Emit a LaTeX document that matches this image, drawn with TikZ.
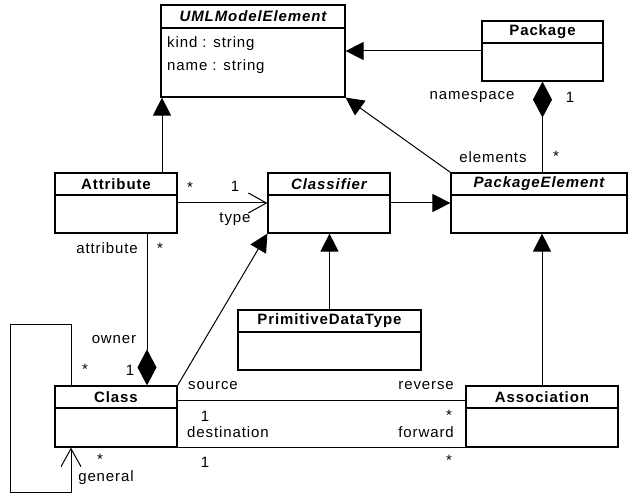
\documentclass[tikz,border=0pt]{standalone}
\usepackage{fontspec}
\setmainfont[LetterSpace=6]{Liberation Sans}
\usetikzlibrary{arrows.meta,fit}
\tikzset{
  box/.style={draw, line width=1.2pt, inner sep=0pt},
  lbl/.style={inner sep=0pt, font=\fontsize{15}{17}\selectfont},
  ttl/.style={inner sep=0pt, font=\fontsize{15}{17}\selectfont\bfseries},
  ttli/.style={inner sep=0pt, font=\fontsize{15}{17}\selectfont\bfseries\itshape},
  conn/.style={line width=1pt},
  gen/.style={conn, -{Triangle[length=18pt,width=18pt]}},
  opn/.style={conn, -{Straight Barb[length=18pt,width=20pt,line width=1pt]}},
  comp/.style={conn, {Diamond[length=36pt,width=19pt]}-},
}
\newcommand\umlcls[8]{%
  \node[box, fit={(#2,#3) (#4,#5)}] (#1) {};
  \draw[line width=1.2pt] (#2,#6) -- (#4,#6);
  \node[#8] at ({(#2+#4)/2},{(#3+#6)/2}) {#7};
}
\begin{document}
\begin{tikzpicture}[x=1pt,y=-1pt]
\useasboundingbox (0,0) rectangle (628,494);
\umlcls{me}{161}{5}{345}{97}{28}{UMLModelElement}{ttli}
\node[lbl, anchor=west] (kind) at (167,44) {kind : string};
\node[lbl, anchor=west] (name) at (167,67) {name : string};
\umlcls{pkg}{482}{21}{603}{81}{43}{Package}{ttl}
\umlcls{attr}{55}{173}{177}{233}{195}{Attribute}{ttl}
\umlcls{cls}{268}{173}{390}{233}{195}{Classifier}{ttli}
\umlcls{pe}{451}{173}{627}{233}{195}{PackageElement}{ttli}
\umlcls{pdt}{238}{310}{421}{370}{332}{PrimitiveDataType}{ttl}
\umlcls{class}{55}{386}{177}{447}{408}{Class}{ttl}
\umlcls{assoc}{466}{386}{618}{447}{408}{Association}{ttl}
% connectors
\draw[gen] (pkg.west) -- (pkg.west -| me.east);
\draw[gen] ([xshift=46pt]attr.north) -- ([xshift=46pt]attr.north |- me.south);
\draw[gen] (pe.north west) -- (me.south east);
\draw[comp] (pkg.south) -- (pkg.south |- pe.north);
\draw[opn] (attr.east) -- (cls.west);
\draw[gen] (cls.east) -- (pe.west);
\draw[gen] (pdt.north) -- (pdt.north |- cls.south);
\draw[gen] (assoc.north) -- (assoc.north |- pe.south);
\draw[gen] (class.north east) -- (cls.south west);
\draw[comp] ([xshift=31pt]class.north) -- ([xshift=31pt]attr.south);
\draw[conn] ([yshift=-15pt]class.north east) -- ([yshift=-15pt]class.north east -| assoc.west);
\draw[conn] (class.south east) -- (assoc.south west);
\draw[opn] ([xshift=-45pt]class.north) -- ++(0,-61) -| (10,492) -| ([xshift=-45pt]class.south);
% labels
\node[lbl] at (472,97) {namespace};
\node[lbl] at (570,97) {1};
\node[lbl] at (493,157) {elements};
\node[lbl] at (556,156) {*};
\node[lbl] at (190,187) {*};
\node[lbl] at (235,186) {1};
\node[lbl] at (235,219) {type};
\node[lbl] at (107,248) {attribute};
\node[lbl] at (160,248) {*};
\node[lbl] at (114,340) {owner};
\node[lbl] at (130,370) {1};
\node[lbl] at (85,369) {*};
\node[lbl] at (213,386) {source};
\node[lbl] at (205,416) {1};
\node[lbl] at (228,432) {destination};
\node[lbl] at (205,462) {1};
\node[lbl] at (100,459) {*};
\node[lbl] at (106,478) {general};
\node[lbl, anchor=east] at (454,386) {reverse};
\node[lbl] at (449,415) {*};
\node[lbl, anchor=east] at (454,432) {forward};
\node[lbl] at (449,460) {*};
\end{tikzpicture}
\end{document}
